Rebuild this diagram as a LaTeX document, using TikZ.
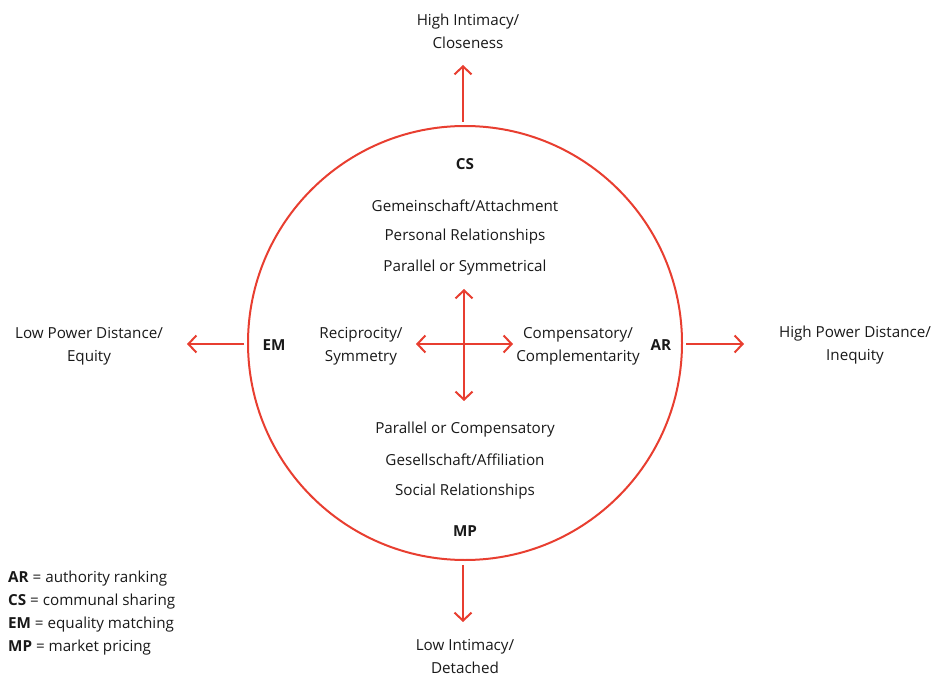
\documentclass[tikz,border=0pt]{standalone}
\usepackage{fontspec}
\setmainfont{Open Sans}
\usetikzlibrary{arrows.meta}
\usetikzlibrary{positioning}
\definecolor{axisred}{RGB}{232,62,48}

\tikzset{
	lbl/.style={font=\fontsize{15.2}{23}\selectfont, align=center, inner sep=0pt, text=black!90},
	tag/.style={lbl, font=\fontsize{15.2}{23}\selectfont\bfseries},
	axisline/.style={draw=axisred, line width=2pt, -{Straight Barb[length=8pt,width=17pt]}},
	crossline/.style={draw=axisred, line width=2pt, {Straight Barb[length=8pt,width=17pt]}-{Straight Barb[length=8pt,width=17pt]}},
}

\begin{document}
\begin{tikzpicture}[x=1pt,y=-1pt]
		\useasboundingbox (0,0) rectangle (934,676);
		\def \cx {465};
		\def \cy {343};
		% the ring
		\node[circle, draw=axisred, line width=2pt, minimum size=434pt, inner sep=0pt] (ring) at (\cx,\cy) {};
		% outer axis ends
		\coordinate (upTip) at (463,65);
		\coordinate (downTip) at (463,622);
		\coordinate (leftTip) at (187,344);
		\coordinate (rightTip) at (744,344);
		\draw[axisline] (463,122) -- (upTip);
		\draw[axisline] (463,565) -- (downTip);
		\draw[axisline] (244,344) -- (leftTip);
		\draw[axisline] (686,344) -- (rightTip);
		% pole labels
		\node[lbl] (high) at (468,31) {High Intimacy/\\Closeness};
		\node[lbl] (low) at (465,656) {Low Intimacy/\\Detached};
		\node[lbl] (lpd) at (89,346) {Low Power Distance/\\Equity};
		\node[lbl] (hpd) at (855,345) {High Power Distance/\\Inequity};
		% models
		\node[tag] (cs) at (465,164) {CS};
		\node[tag] (mp) at (465,531) {MP};
		\node[tag] (em) at (274,345) {EM};
		\node[tag] (ar) at (661,345) {AR};
		% inside text
		\node[lbl] (gem) at (465,206) {Gemeinschaft/Attachment};
		\node[lbl] (pers) at (465,237) {Personal Relationships};
		\node[lbl] (sym) at (465,268) {Parallel or Symmetrical};
		\node[lbl] (comp) at (465,430) {Parallel or Compensatory};
		\node[lbl] (ges) at (465,460) {Gesellschaft/Affiliation};
		\node[lbl] (soc) at (465,492) {Social Relationships};
		\node[lbl] (recip) at (361,346) {Reciprocity/\\Symmetry};
		\node[lbl] (compl) at (578,346) {Compensatory/\\Complementarity};
		% inner cross
		\coordinate (crossN) at (464,289);
		\coordinate (crossS) at (464,401);
		\coordinate (crossW) at (416,344);
		\coordinate (crossE) at (513,344);
		\draw[crossline] (crossN) -- (crossS);
		\draw[crossline] (crossW) -- (crossE);
		% legend
		\foreach \abbr/\full [count=\i] in {AR/authority ranking, CS/communal sharing, EM/equality matching, MP/market pricing}
		{
			\node[lbl, anchor=west] (key\i) at (8,556+23*\i) {\textbf{\abbr} = \full};
		}
\end{tikzpicture}
\end{document}
